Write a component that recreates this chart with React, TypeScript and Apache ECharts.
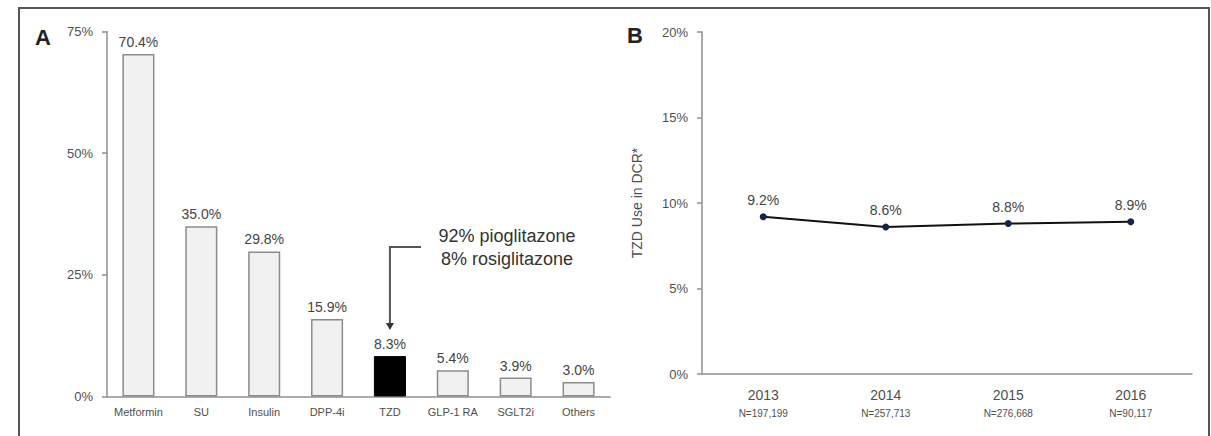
import React, { useEffect, useRef } from "react";
import * as echarts from "echarts";

// Panel A: share of each drug class
const drugClasses = ["Metformin", "SU", "Insulin", "DPP-4i", "TZD", "GLP-1 RA", "SGLT2i", "Others"];
const drugShare = [70.4, 35.0, 29.8, 15.9, 8.3, 5.4, 3.9, 3.0];
const highlightClass = "TZD";
const shareTicks = [0, 25, 50, 75];

// Panel B: TZD use by year
const years = ["2013", "2014", "2015", "2016"];
const yearN = ["N=197,199", "N=257,713", "N=276,668", "N=90,117"];
const tzdUse = [9.2, 8.6, 8.8, 8.9];
const useTicks = [0, 5, 10, 15, 20];

const noteLines = ["92% pioglitazone", "8% rosiglitazone"];

const FONT = "'Liberation Sans', Arial, sans-serif";

export default function App() {
  const ref = useRef<HTMLDivElement>(null);

  useEffect(() => {
    if (!ref.current) return;
    const chart = echarts.init(ref.current, null, { renderer: "svg" });

    const axisGray = "#8f8f8f";
    const labelGray = "#4f4f4f";

    chart.setOption({
      animation: false,
      backgroundColor: "#fff",
      textStyle: { fontFamily: FONT },
      grid: [
        { left: 107, top: 31.5, width: 503, height: 365 },
        { left: 702, top: 32, width: 490, height: 342 },
      ],
      xAxis: [
        {
          type: "category",
          gridIndex: 0,
          data: drugClasses,
          axisLine: { lineStyle: { color: axisGray, width: 1.5 } },
          axisTick: { length: 4, lineStyle: { color: axisGray, width: 1.5 } },
          axisLabel: { interval: 0, color: labelGray, fontSize: 11, margin: 10, fontFamily: FONT },
        },
        {
          type: "category",
          gridIndex: 1,
          data: years.map((y, i) => `{y|${y}}\n{n|${yearN[i]}}`),
          axisLine: { lineStyle: { color: axisGray, width: 1.5 } },
          axisTick: { length: 4, lineStyle: { color: axisGray, width: 1.5 } },
          axisLabel: {
            interval: 0,
            margin: 10,
            fontFamily: FONT,
            rich: {
              y: { fontSize: 14, color: labelGray, lineHeight: 22, fontFamily: FONT },
              n: { fontSize: 10, color: labelGray, lineHeight: 14, fontFamily: FONT },
            },
          },
        },
      ],
      yAxis: [
        {
          type: "value",
          gridIndex: 0,
          min: shareTicks[0],
          max: shareTicks[shareTicks.length - 1],
          interval: shareTicks[1] - shareTicks[0],
          splitLine: { show: false },
          axisLine: { show: true, lineStyle: { color: axisGray, width: 1.5 } },
          axisTick: { show: true, length: 5, lineStyle: { color: axisGray, width: 1.5 } },
          axisLabel: { formatter: "{value}%", color: labelGray, fontSize: 13, margin: 14, fontFamily: FONT },
        },
        {
          type: "value",
          gridIndex: 1,
          min: useTicks[0],
          max: useTicks[useTicks.length - 1],
          interval: useTicks[1] - useTicks[0],
          splitLine: { show: false },
          axisLine: { show: true, lineStyle: { color: axisGray, width: 1.5 } },
          axisTick: { show: true, length: 5, lineStyle: { color: axisGray, width: 1.5 } },
          axisLabel: { formatter: "{value}%", color: labelGray, fontSize: 13, margin: 14, fontFamily: FONT },
          name: "TZD Use in DCR*",
          nameLocation: "middle",
          nameGap: 58,
          nameTextStyle: { color: labelGray, fontSize: 14, fontFamily: FONT },
        },
      ],
      series: [
        {
          type: "bar",
          xAxisIndex: 0,
          yAxisIndex: 0,
          barWidth: "51%",
          data: drugClasses.map((c, i) => ({
            value: drugShare[i],
            itemStyle:
              c === highlightClass
                ? { color: "#000", borderColor: "#000", borderWidth: 1 }
                : { color: "#f1f1f1", borderColor: "#8c8c8c", borderWidth: 1.5 },
          })),
          label: {
            show: true,
            position: "top",
            distance: 5,
            formatter: (p: any) => `${p.value.toFixed(1)}%`,
            color: "#444",
            fontSize: 14,
            fontFamily: FONT,
          },
        },
        {
          type: "line",
          xAxisIndex: 1,
          yAxisIndex: 1,
          data: tzdUse,
          symbol: "circle",
          symbolSize: 7,
          itemStyle: { color: "#14254a" },
          lineStyle: { color: "#111", width: 2 },
          label: {
            show: true,
            position: "top",
            distance: 6,
            formatter: (p: any) => `${p.value.toFixed(1)}%`,
            color: "#444",
            fontSize: 14,
            fontFamily: FONT,
          },
        },
      ],
    });

    // Annotation arrow anchored above the highlighted bar
    const hi = drugClasses.indexOf(highlightClass);
    const [ax, ay] = chart.convertToPixel({ gridIndex: 0 }, [drugClasses[hi], drugShare[hi]]) as number[];
    const tipY = ay - 26;
    const elbowY = 247;
    const elbowX = 421;
    const noteX = 507;

    chart.setOption({
      graphic: [
        {
          type: "rect",
          shape: { x: 19, y: 8, width: 1190, height: 460 },
          style: { fill: "none", stroke: "#555", lineWidth: 2 },
          silent: true,
        },
        {
          type: "text",
          x: 35,
          y: 37,
          style: { text: "A", font: `bold 22px ${FONT}`, fill: "#222", textVerticalAlign: "middle" },
        },
        {
          type: "text",
          x: 627,
          y: 35,
          style: { text: "B", font: `bold 22px ${FONT}`, fill: "#222", textVerticalAlign: "middle" },
        },
        {
          type: "polyline",
          shape: { points: [[elbowX, elbowY], [ax, elbowY], [ax, tipY - 5]] },
          style: { stroke: "#555", lineWidth: 2, fill: "none" },
        },
        {
          type: "polygon",
          shape: { points: [[ax - 4, tipY - 7], [ax + 4, tipY - 7], [ax, tipY]] },
          style: { fill: "#333" },
        },
        ...noteLines.map((t, i) => ({
          type: "text",
          x: noteX,
          y: 236 + i * 23,
          style: {
            text: t,
            font: `18px ${FONT}`,
            fill: "#333",
            textAlign: "center",
            textVerticalAlign: "middle",
          },
        })),
      ],
    });

    return () => chart.dispose();
  }, []);

  return (
    <div
      ref={ref}
      style={{ position: "fixed", left: 0, top: 0, width: 1211, height: 436 }}
    />
  );
}
